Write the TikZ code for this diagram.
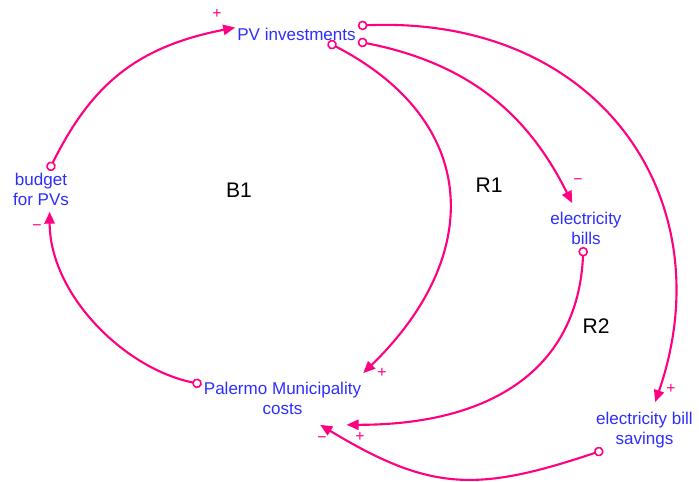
\documentclass[tikz,border=0pt]{standalone}
\usepackage{fontspec}
\setmainfont{Liberation Sans}
\usetikzlibrary{arrows.meta}
\definecolor{CLDPink}{RGB}{255,0,128}
\definecolor{CLDBlue}{RGB}{45,45,255}

\begin{document}
\begin{tikzpicture}[x=0.02cm, y=-0.02cm,
    var/.style={align=center, inner sep=1pt, text=CLDBlue,
                font=\fontsize{9.7}{11.4}\selectfont},
    link/.style={{Circle[open, length=5.5pt, line width=0.9pt]}-{Triangle[length=6.8pt, width=5.8pt]},
                 draw=CLDPink, line width=1.2pt},
    polarity/.style={text=CLDPink, inner sep=0pt, font=\fontsize{9}{9}\selectfont},
    looplbl/.style={font=\fontsize{12}{12}\selectfont}
  ]
  \useasboundingbox (0,0) rectangle (699,481);

  \node[var] (pv)      at (296.5,34)  {PV investments};
  \node[var] (budget)  at (41,189)    {budget\\for PVs};
  \node[var] (costs)   at (282.5,398.5) {Palermo Municipality\\costs};
  \node[var] (bills)   at (586,228.5) {electricity\\bills};
  \node[var] (savings) at (644.5,430) {electricity bill\\savings};

  \node[looplbl] (b1) at (239,190) {B1};
  \node[looplbl] (r1) at (489,185) {R1};
  \node[looplbl] (r2) at (596,326) {R2};

  \draw[link] (budget.67) .. controls (91,86) and (135,47) .. (pv.174);
  \draw[link] (pv.-15) .. controls (480,121) and (485,255) .. ([yshift=4pt]costs.north east);
  \draw[link] (costs.170) .. controls (125,369) and (50,295) .. ([yshift=-2.5pt]budget.-65);
  \draw[link] (pv.-7) .. controls (478,65) and (532,123) .. ([yshift=4pt]bills.127);
  \draw[link] (pv.north east) .. controls (600,15) and (725,200) .. ([yshift=4.5pt]savings.62);
  \draw[link] (bills.-98) .. controls (578,370) and (490,425) .. ([yshift=-4.5pt]costs.-16);
  \draw[link] (savings.206) .. controls (478,492) and (431,492) .. ([yshift=-4.5pt]costs.-26);

  \node[polarity] (p1) at (217,14)  {+};
  \node[polarity] (p2) at (382,373) {+};
  \node[polarity] (p3) at (37,228)  {−};
  \node[polarity] (p4) at (578,182) {−};
  \node[polarity] (p5) at (671,389) {+};
  \node[polarity] (p6) at (360,437) {+};
  \node[polarity] (p7) at (322,440) {−};
\end{tikzpicture}
\end{document}
